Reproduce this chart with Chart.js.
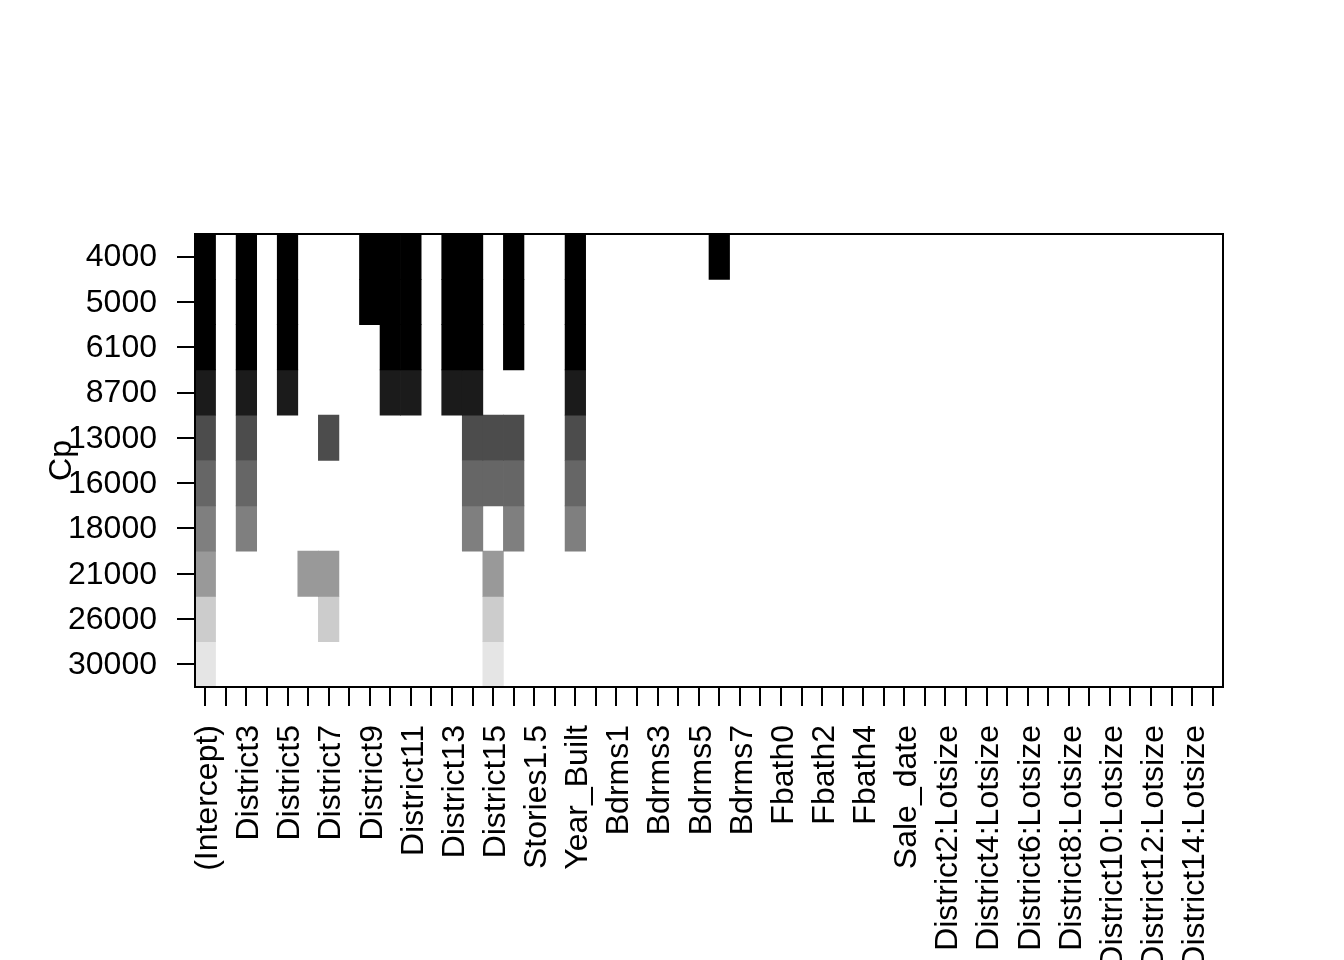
<!DOCTYPE html>
<html>
<head>
<meta charset="utf-8">
<script src="https://cdn.jsdelivr.net/npm/chart.js@4/dist/chart.umd.min.js"></script>
<style>
  html, body { margin: 0; padding: 0; background: #fff; }
  #wrap { width: 1344px; height: 960px; }
</style>
</head>
<body>
<div id="wrap"><canvas id="grafico" width="1344" height="960"></canvas></div>
<script>
// variaveis do modelo (so as pares aparecem no eixo)
const variaveis = [
  '(Intercept)', 'District2', 'District3', 'District4', 'District5', 'District6', 'District7', 'District8',
  'District9', 'District10', 'District11', 'District12', 'District13', 'District14', 'District15', 'Stories1',
  'Stories1.5', 'Stories2', 'Year_Built', 'Fin_sqft', 'Bdrms1', 'Bdrms2', 'Bdrms3', 'Bdrms4',
  'Bdrms5', 'Bdrms6', 'Bdrms7', 'Bdrms8', 'Fbath0', 'Fbath1', 'Fbath2', 'Fbath3',
  'Fbath4', 'Units', 'Sale_date', 'Lotsize', 'District2:Lotsize', 'District3:Lotsize', 'District4:Lotsize', 'District5:Lotsize',
  'District6:Lotsize', 'District7:Lotsize', 'District8:Lotsize', 'District9:Lotsize', 'District10:Lotsize', 'District11:Lotsize',
  'District12:Lotsize', 'District13:Lotsize', 'District14:Lotsize', 'District15:Lotsize'
];

// valores de Cp (uma linha por modelo)
const linhasCp = ['4000', '5000', '6100', '8700', '13000', '16000', '18000', '21000', '26000', '30000'];
const coresLinhas = ['#000000', '#000000', '#000000', '#1b1b1b', '#4c4c4c', '#666666', '#7f7f7f', '#999999', '#cccccc', '#e5e5e5'];

// indices das variaveis incluidas em cada modelo
const incluidas = [
  [0, 2, 4, 8, 9, 10, 12, 13, 15, 18, 25],
  [0, 2, 4, 8, 9, 10, 12, 13, 15, 18],
  [0, 2, 4, 9, 10, 12, 13, 15, 18],
  [0, 2, 4, 9, 10, 12, 13, 18],
  [0, 2, 6, 13, 14, 15, 18],
  [0, 2, 13, 14, 15, 18],
  [0, 2, 13, 15, 18],
  [0, 5, 6, 14],
  [0, 6, 14],
  [0, 14]
];

const fonte = { family: 'Liberation Sans, Arial, sans-serif', size: 32 };

const datasets = linhasCp.map((rotulo, r) => ({
  label: 'Cp ' + rotulo,
  data: variaveis.map((_, c) => incluidas[r].includes(c) ? [r, r + 1] : null),
  backgroundColor: coresLinhas[r],
  borderWidth: 0,
  grouped: false,
  barPercentage: 1,
  categoryPercentage: 1
}));

// moldura do grafico
const moldura = {
  id: 'moldura',
  afterDatasetsDraw(chart) {
    const { ctx, chartArea: a } = chart;
    ctx.save();
    ctx.strokeStyle = '#000';
    ctx.lineWidth = 2;
    ctx.strokeRect(a.left, a.top, a.right - a.left, a.bottom - a.top);
    ctx.restore();
  }
};

new Chart(document.getElementById('grafico').getContext('2d'), {
  type: 'bar',
  data: { labels: variaveis, datasets },
  plugins: [moldura],
  options: {
    responsive: false,
    animation: false,
    layout: { padding: { top: 234, right: 121, left: 0, bottom: 0 } },
    plugins: { legend: { display: false }, tooltip: { enabled: false } },
    scales: {
      x: {
        type: 'category',
        offset: true,
        afterFit: s => { s.height = 273; },
        border: { display: false },
        grid: { offset: false, drawOnChartArea: false, color: '#000', lineWidth: 2, tickLength: 19 },
        ticks: {
          autoSkip: false, maxRotation: 90, minRotation: 90, padding: 19, labelOffset: 3,
          color: '#000', font: fonte,
          callback: (v, i) => i % 2 === 0 ? variaveis[i] : ''
        }
      },
      y: {
        type: 'linear',
        min: 0, max: 10, reverse: true,
        afterFit: s => { s.width = 195; },
        afterBuildTicks: s => { s.ticks = linhasCp.map((_, i) => ({ value: i + 0.5 })); },
        border: { display: false },
        grid: { drawOnChartArea: false, color: '#000', lineWidth: 2, tickLength: 18 },
        ticks: { color: '#000', font: fonte, padding: 20, labelOffset: 1, callback: (v, i) => linhasCp[i] },
        title: { display: true, text: 'Cp', color: '#000', font: fonte, padding: { top: 43, bottom: 0 } }
      }
    }
  }
});
</script>
</body>
</html>
